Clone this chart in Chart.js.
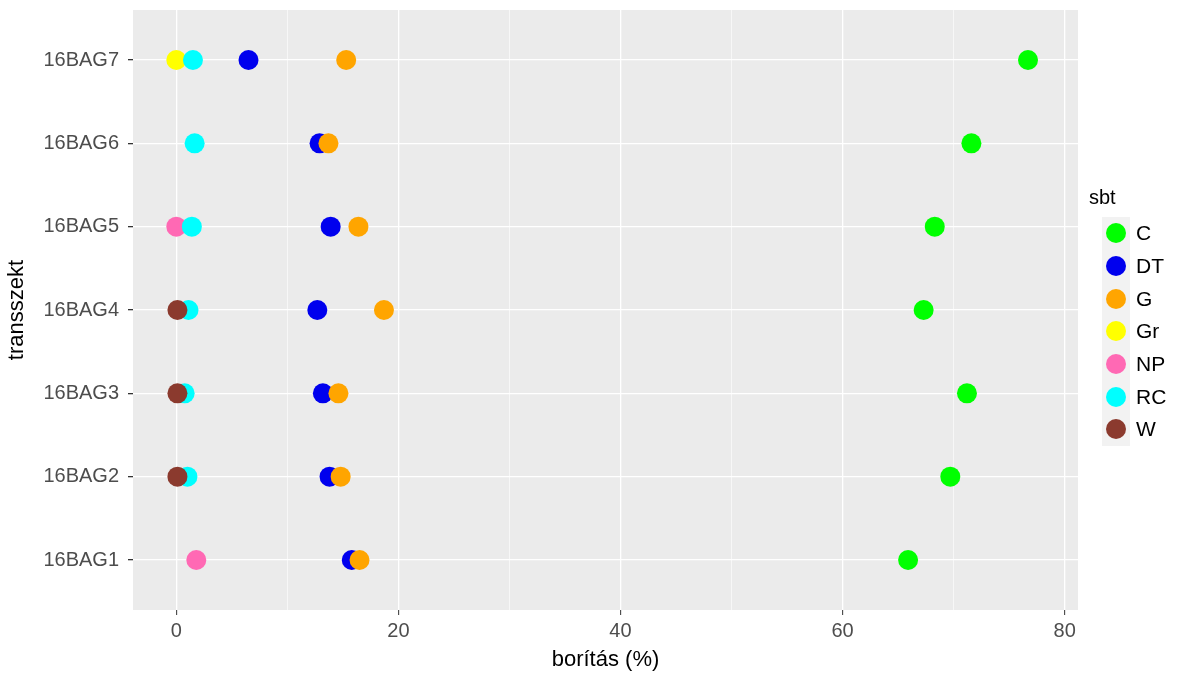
<!DOCTYPE html>
<html>
<head>
<meta charset="utf-8">
<script src="https://cdn.jsdelivr.net/npm/chart.js@4/dist/chart.umd.min.js"></script>
<style>
  body { margin: 0; background: #fff; font-family: "Liberation Sans", Arial, sans-serif; }
  #wrap { position: relative; width: 1195px; height: 675px; }
  #legend { position: absolute; left: 1089px; top: 186px; color: #000; }
  #legend .title { font-size: 20px; margin-bottom: 8px; }
  #legend .row { display: flex; align-items: center; height: 32.7px; }
  #legend .key { width: 28px; height: 32.7px; background: #F2F2F2; display: flex; align-items: center; justify-content: center; margin-left: 13px; }
  #legend .dot { width: 20px; height: 20px; border-radius: 50%; }
  #legend .lab { font-size: 21px; margin-left: 6px; }
</style>
</head>
<body>
<div id="wrap">
  <canvas id="chart" width="1195" height="675"></canvas>
  <div id="legend"></div>
</div>
<script>
// transects, bottom to top
const transects = ['16BAG1', '16BAG2', '16BAG3', '16BAG4', '16BAG5', '16BAG6', '16BAG7'];
const groups = ['C', 'DT', 'G', 'Gr', 'NP', 'RC', 'W'];
const groupColors = ['#00FF00', '#0000EE', '#FFA500', '#FFFF00', '#FF69B4', '#00FFFF', '#8B3A2E'];
const xTicks = [0, 20, 40, 60, 80];

// cover (%) per transect, in the order of transects; null = not present
const cC  = [65.9, 69.7, 71.2, 67.3, 68.3, 71.6, 76.7];
const cDT = [15.8, 13.8, 13.2, 12.7, 13.9, 12.9, 6.5];
const cG  = [16.5, 14.8, 14.6, 18.7, 16.4, 13.7, 15.3];
const cGr = [null, null, null, null, null, null, 0.0];
const cNP = [1.8, null, null, null, 0.0, null, null];
const cRC = [null, 1.0, 0.75, 1.1, 1.4, 1.65, 1.5];
const cW  = [null, 0.1, 0.1, 0.1, null, null, null];
const seriesValues = [cC, cDT, cG, cGr, cNP, cRC, cW];

const datasets = groups.map((g, i) => ({
    label: g,
    data: seriesValues[i]
        .map((v, j) => v === null ? null : { x: v, y: j + 1 })
        .filter(p => p !== null),
    backgroundColor: groupColors[i],
    borderWidth: 0,
    pointRadius: 10,
    pointHoverRadius: 10,
    order: groups.length - i   // later groups drawn on top, like ggplot
}));

const panelBg = {
    id: 'panelBg',
    beforeDraw(chart) {
        const { ctx, chartArea: a } = chart;
        ctx.save();
        ctx.fillStyle = '#EBEBEB';
        ctx.fillRect(a.left, a.top, a.right - a.left, a.bottom - a.top);
        ctx.restore();
    }
};

const isMajor = v => xTicks.includes(v);

new Chart(document.getElementById('chart'), {
    type: 'scatter',
    data: { datasets },
    plugins: [panelBg],
    options: {
        responsive: false,
        animation: false,
        layout: { padding: { left: 4, right: 117, top: 10, bottom: 0 } },
        plugins: { legend: { display: false }, tooltip: { enabled: false } },
        scales: {
            x: {
                type: 'linear',
                min: -3.9,
                max: 81.2,
                afterFit: s => { s.height = 65; s.paddingLeft = 0; s.paddingRight = 0; },
                border: { display: false },
                grid: {
                    color: '#FFFFFF',
                    lineWidth: c => isMajor(c.tick.value) ? 1.3 : 0.6,
                    tickColor: c => isMajor(c.tick.value) ? '#333333' : 'rgba(0,0,0,0)',
                    tickLength: 5,
                    tickWidth: 1
                },
                ticks: {
                    stepSize: 10,
                    includeBounds: false,
                    maxRotation: 0,
                    autoSkip: false,
                    padding: 4,
                    color: '#4D4D4D',
                    font: { family: 'Liberation Sans', size: 20 },
                    callback: v => isMajor(v) ? String(v) : ''
                },
                title: {
                    display: true,
                    text: 'borítás (%)',
                    color: '#000',
                    padding: { top: 0, bottom: 2 },
                    font: { family: 'Liberation Sans', size: 22 }
                }
            },
            y: {
                type: 'linear',
                min: 0.4,
                max: 7.6,
                afterFit: s => { s.width = 129; s.paddingTop = 0; s.paddingBottom = 0; },
                border: { display: false },
                grid: {
                    color: '#FFFFFF',
                    lineWidth: 1.3,
                    tickColor: '#333333',
                    tickLength: 5
                },
                ticks: {
                    stepSize: 1,
                    includeBounds: false,
                    autoSkip: false,
                    padding: 9,
                    color: '#4D4D4D',
                    font: { family: 'Liberation Sans', size: 20 },
                    callback: v => transects[v - 1] || ''
                },
                title: {
                    display: true,
                    text: 'transszekt',
                    color: '#000',
                    padding: { top: 0, bottom: 0 },
                    font: { family: 'Liberation Sans', size: 22 }
                }
            }
        }
    }
});

// ggplot-style legend
const legend = document.getElementById('legend');
legend.innerHTML = '<div class="title">sbt</div>' + groups.map((g, i) => `
    <div class="row">
        <div class="key"><div class="dot" style="background:${groupColors[i]}"></div></div>
        <div class="lab">${g}</div>
    </div>`).join('');
</script>
</body>
</html>
